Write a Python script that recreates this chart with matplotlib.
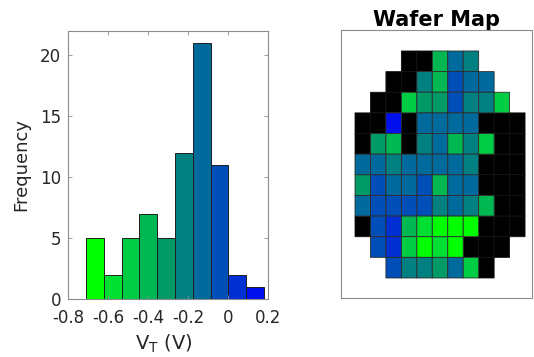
import numpy as np
import matplotlib
matplotlib.use("Agg")
import matplotlib.pyplot as plt
from matplotlib.colors import ListedColormap, BoundaryNorm

F = np.nan   # failed die, drawn black
O = None     # grid position outside the wafer

# Threshold voltage per die (V), row by row from the top of the wafer
vt_map = [
    [O, O, O, F, F, -0.41, -0.13, -0.22, O, O, O],
    [O, O, F, F, -0.24, -0.38, -0.05, -0.11, -0.15, O, O],
    [O, F, F, -0.47, -0.30, -0.33, -0.06, -0.20, -0.19, -0.50, O],
    [F, F, 0.18, F, -0.12, -0.14, -0.10, -0.16, F, F, F],
    [F, -0.31, -0.40, F, -0.21, -0.13, -0.44, -0.23, -0.52, F, F],
    [-0.15, -0.12, -0.25, -0.11, -0.14, -0.09, -0.13, -0.18, F, F, F],
    [-0.28, -0.04, -0.12, -0.10, -0.07, -0.36, -0.15, -0.11, F, F, F],
    [-0.16, -0.03, -0.08, -0.02, -0.06, -0.21, -0.12, -0.26, -0.39, F, F],
    [F, -0.05, 0.03, -0.42, -0.60, -0.69, -0.66, -0.64, F, F, F],
    [O, -0.01, 0.06, -0.49, -0.71, -0.56, -0.68, F, F, F, O],
    [O, O, -0.04, -0.22, -0.19, -0.34, -0.14, -0.45, F, O, O],
]

n_bins = 10
bin_colors = ["#00ff00", "#00e032", "#00cc44", "#00b852", "#009a66",
              "#008080", "#006a9c", "#004eb8", "#0030d4", "#0010ec"]
x_ticks = [-0.8, -0.6, -0.4, -0.2, 0, 0.2]
x_tick_labels = ["-0.8", "-0.6", "-0.4", "-0.2", "0", "0.2"]
y_ticks = [0, 5, 10, 15, 20]
y_tick_labels = ["0", "5", "10", "15", "20"]

plt.rcParams["font.family"] = ["DejaVu Sans"]
plt.rcParams["axes.unicode_minus"] = False

on_wafer = np.array([[v is not None for v in row] for row in vt_map])
vals = np.array([[np.nan if v is None else v for v in row] for row in vt_map], dtype=float)
failed = on_wafer & np.isnan(vals)
measured = vals[~np.isnan(vals)]

edges = np.linspace(measured.min(), measured.max(), n_bins + 1)

fig = plt.figure(figsize=(5.34, 3.57), dpi=100)

# ---- histogram of V_T ----
ax1 = fig.add_axes([68 / 534, 58 / 357, 200 / 534, 268.3 / 357])
_, _, patches = ax1.hist(measured, bins=edges, edgecolor="#1e1e1e", linewidth=0.7)
for p, c in zip(patches, bin_colors):
    p.set_facecolor(c)
ax1.set_xlim(-0.8, 0.2)
ax1.set_ylim(0, 22)
ax1.set_xticks(x_ticks)
ax1.set_xticklabels(x_tick_labels)
ax1.set_yticks(y_ticks)
ax1.set_yticklabels(y_tick_labels)
ax1.tick_params(direction="in", length=3, width=0.6, top=True, right=True,
                labelsize=12, color="#8c8c8c", labelcolor="#262626")
ax1.tick_params(axis="x", pad=7.4)
ax1.tick_params(axis="y", pad=5)
for s in ax1.spines.values():
    s.set_color("#8c8c8c")
    s.set_linewidth(0.8)
ax1.set_ylabel("Frequency", fontsize=13, color="#262626")
ax1.yaxis.set_label_coords(-0.19, 0.5)
ax1.set_xlabel(r"V$_\mathregular{T}$ (V)", fontsize=14, color="#262626")
ax1.xaxis.set_label_coords(0.48, -0.127)

# ---- wafer map ----
ax2 = fig.add_axes([341 / 534, 59 / 357, 191 / 534, 268 / 357])
cmap = ListedColormap(bin_colors)
cmap.set_over(bin_colors[-1])
norm = BoundaryNorm(edges, cmap.N)
xs = np.arange(vals.shape[1] + 1)
ys = np.arange(vals.shape[0] + 1)
ax2.pcolor(xs, ys, np.ma.masked_where(~failed, np.ones_like(vals)),
           cmap=ListedColormap(["black"]), edgecolors="#111111", linewidth=0.6)
ax2.pcolor(xs, ys, np.ma.masked_invalid(vals), cmap=cmap, norm=norm,
           edgecolors="#2b2b2b", linewidth=0.6)
ax2.set_xlim(-0.906, 11.45)
ax2.set_ylim(11.97, -1.017)
ax2.set_xticks([])
ax2.set_yticks([])
for s in ax2.spines.values():
    s.set_color("#8c8c8c")
    s.set_linewidth(0.8)
ax2.set_title("Wafer Map", fontsize=15, fontweight="bold", pad=3)

fig.savefig("out.png", dpi=100)
